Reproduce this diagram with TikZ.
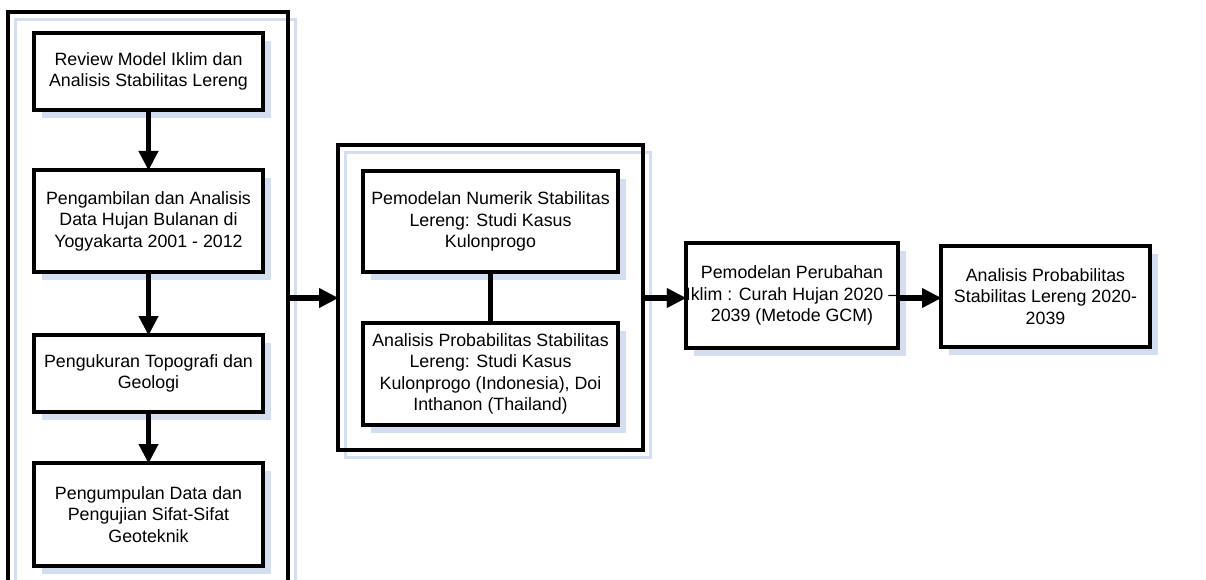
\documentclass[tikz,border=0pt]{standalone}
\usepackage{fontspec}
\setmainfont{Liberation Sans}
\usetikzlibrary{arrows.meta,backgrounds}
\definecolor{shadowblue}{RGB}{213,222,240}
\tikzset{
  box/.style={draw, line width=3.5pt, fill=white, align=center, inner sep=0pt, outer sep=0pt,
    font=\fontsize{17.8}{21.5}\selectfont},
  container/.style={draw, line width=3.5pt, inner sep=0pt, outer sep=0pt},
  arr/.style={line width=5.5pt, -{Triangle[length=19pt,width=20pt,line width=0.1pt]}},
  link/.style={line width=5.5pt},
  boxshadow/.style={fill=shadowblue},
  contshadow/.style={draw=shadowblue, line width=3.5pt}
}
\begin{document}
\begin{tikzpicture}[x=1pt,y=-1pt]
\clip (0,0) rectangle (1206,580);
% left container
\node[container, minimum width=280pt, minimum height=628pt] (lc) at (148,326) {};
\node[box, minimum width=229pt, minimum height=77pt] (b1) at (148.5,71.5)
  {Review Model Iklim dan\\Analisis Stabilitas Lereng};
\node[box, minimum width=229pt, minimum height=102pt] (b2) at (148.5,221)
  {Pengambilan dan Analisis\\Data Hujan Bulanan di\\Yogyakarta 2001 - 2012};
\node[box, minimum width=229pt, minimum height=77pt] (b3) at (148.5,373.5)
  {Pengukuran Topografi dan\\Geologi};
\node[box, minimum width=229pt, minimum height=103pt] (b4) at (148.5,514.5)
  {Pengumpulan Data dan\\Pengujian Sifat-Sifat\\Geoteknik};
% middle container
\node[container, minimum width=305pt, minimum height=305pt] (mc) at (490.5,297.5) {};
\node[box, minimum width=255pt, minimum height=101pt] (m1) at (490.5,221.5)
  {Pemodelan Numerik Stabilitas\\Lereng: Studi Kasus\\Kulonprogo};
\node[box, minimum width=255pt, minimum height=102pt] (m2) at (490.5,374)
  {Analisis Probabilitas Stabilitas\\Lereng: Studi Kasus\\Kulonprogo (Indonesia), Doi\\Inthanon (Thailand)};
% right boxes
\node[box, minimum width=210pt, minimum height=105pt] (b5) at (792,295.5)
  {Pemodelan Perubahan\\Iklim : Curah Hujan 2020 --\\2039 (Metode GCM)};
\node[box, minimum width=209pt, minimum height=101pt] (b6) at (1045.5,296.5)
  {Analisis Probabilitas\\Stabilitas Lereng 2020-\\2039};
% background and shadows
\begin{scope}[on background layer]
  \fill[white] (0,0) rectangle (1206,580);
  \foreach \n in {b1,b2,b3,b4,m1,m2,b5,b6}{
    \fill[boxshadow] ([shift={(8,8)}]\n.south west) rectangle ([shift={(8,8)}]\n.north east);
  }
  \foreach \n in {lc,mc}{
    \draw[contshadow] ([shift={(7.5,7.5)}]\n.south west) rectangle ([shift={(7.5,7.5)}]\n.north east);
  }
\end{scope}
% connectors
\coordinate (ry) at (0,298);
\draw[arr] (b1.south) -- (b2.north);
\draw[arr] (b2.south) -- (b3.north);
\draw[arr] (b3.south) -- (b4.north);
\draw[link] (m1.south) -- (m2.north);
\draw[arr] (lc.east |- ry) -- (mc.west |- ry);
\draw[arr] (mc.east |- ry) -- (b5.west |- ry);
\draw[arr] (b5.east |- ry) -- (b6.west |- ry);
\end{tikzpicture}
\end{document}
